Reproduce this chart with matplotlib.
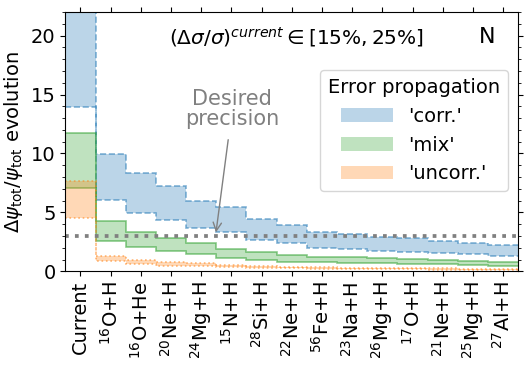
import numpy as np
import matplotlib
matplotlib.use("Agg")
import matplotlib.pyplot as plt
from matplotlib.ticker import MultipleLocator

# reaction labels, ordered as in the figure
labels = [
    "Current", "$^{16}$O+H", "$^{16}$O+He", "$^{20}$Ne+H", "$^{24}$Mg+H",
    "$^{15}$N+H", "$^{28}$Si+H", "$^{22}$Ne+H", "$^{56}$Fe+H", "$^{23}$Na+H",
    "$^{26}$Mg+H", "$^{17}$O+H", "$^{21}$Ne+H", "$^{25}$Mg+H", "$^{27}$Al+H",
]

# 'corr.' band
corr_upper = [30.0, 9.92, 8.34, 7.24, 5.99, 5.45, 4.40, 3.91, 3.36, 3.14, 2.94, 2.80, 2.60, 2.43, 2.21]
corr_lower = [13.95, 6.03, 4.96, 4.35, 3.64, 3.31, 2.66, 2.38, 2.01, 1.87, 1.76, 1.65, 1.59, 1.48, 1.34]

# 'mix' band
mix_upper = [11.75, 4.23, 3.31, 2.80, 2.38, 1.90, 1.67, 1.37, 1.25, 1.19, 1.11, 1.03, 0.94, 0.89, 0.80]
mix_lower = [7.03, 2.57, 2.04, 1.76, 1.45, 1.17, 0.97, 0.83, 0.80, 0.74, 0.69, 0.63, 0.58, 0.52, 0.44]

# 'uncorr.' band
uncorr_upper = [7.65, 1.33, 0.97, 0.83, 0.69, 0.52, 0.45, 0.38, 0.34, 0.31, 0.29, 0.27, 0.25, 0.23, 0.21]
uncorr_lower = [4.54, 0.89, 0.61, 0.49, 0.41, 0.35, 0.30, 0.25, 0.22, 0.20, 0.18, 0.17, 0.15, 0.14, 0.12]

desired_precision = 3.0


def draw_band(ax, upper, lower, edges, color, linestyle, label):
    ax.stairs(upper, edges, baseline=lower, fill=True, color=color,
              alpha=0.3, linewidth=0, label=label)
    ax.stairs(upper, edges, baseline=None, color=color, alpha=0.55,
              linestyle=linestyle, linewidth=1.2)
    ax.stairs(lower, edges, baseline=None, color=color, alpha=0.55,
              linestyle=linestyle, linewidth=1.2)


fig = plt.figure(figsize=(5.31, 3.67), dpi=100)
ax = fig.add_axes([0.123, 0.2607, 0.853, 0.7065])

n = len(labels)
edges = np.arange(n + 1) - 0.5

draw_band(ax, corr_upper, corr_lower, edges, "#1f77b4", "--", "'corr.'")
draw_band(ax, mix_upper, mix_lower, edges, "#2ca02c", "-", "'mix'")
draw_band(ax, uncorr_upper, uncorr_lower, edges, "#ff7f0e", ":", "'uncorr.'")

ax.axhline(desired_precision, color="gray", linestyle=":", linewidth=2.7)

ax.annotate("Desired\nprecision", xy=(4.49, 3.3), xytext=(5.03, 13.8),
            ha="center", va="center", color="gray", fontsize=15,
            linespacing=1.0,
            arrowprops=dict(arrowstyle="->", color="gray", lw=1,
                            mutation_scale=15, shrinkA=6, shrinkB=0))

ax.text(0.51, 0.905, r"$(\Delta\sigma/\sigma)^{current} \in [15\%, 25\%]$",
        transform=ax.transAxes, ha="center", va="center", fontsize=14.5)
ax.text(0.932, 0.905, "N", transform=ax.transAxes, ha="center", va="center",
        fontsize=16)

ax.set_xlim(-0.5, n - 0.5)
ax.set_ylim(0, 22)
ax.set_xticks(np.arange(n))
ax.set_xticklabels(labels, rotation=90, fontsize=14)
ax.yaxis.set_major_locator(MultipleLocator(5))
ax.yaxis.set_minor_locator(MultipleLocator(1))
ax.tick_params(axis="y", labelsize=14)
ax.tick_params(which="both", top=True, right=True)
ax.set_ylabel(r"$\Delta\psi_{\rm tot}/\psi_{\rm tot}$ evolution", fontsize=14)

ax.legend(title="Error propagation", loc="upper right",
          bbox_to_anchor=(0.985, 0.79), fontsize=14, title_fontsize=14,
          handlelength=2.7, borderaxespad=0.2)

fig.savefig("out.png", dpi=100)
